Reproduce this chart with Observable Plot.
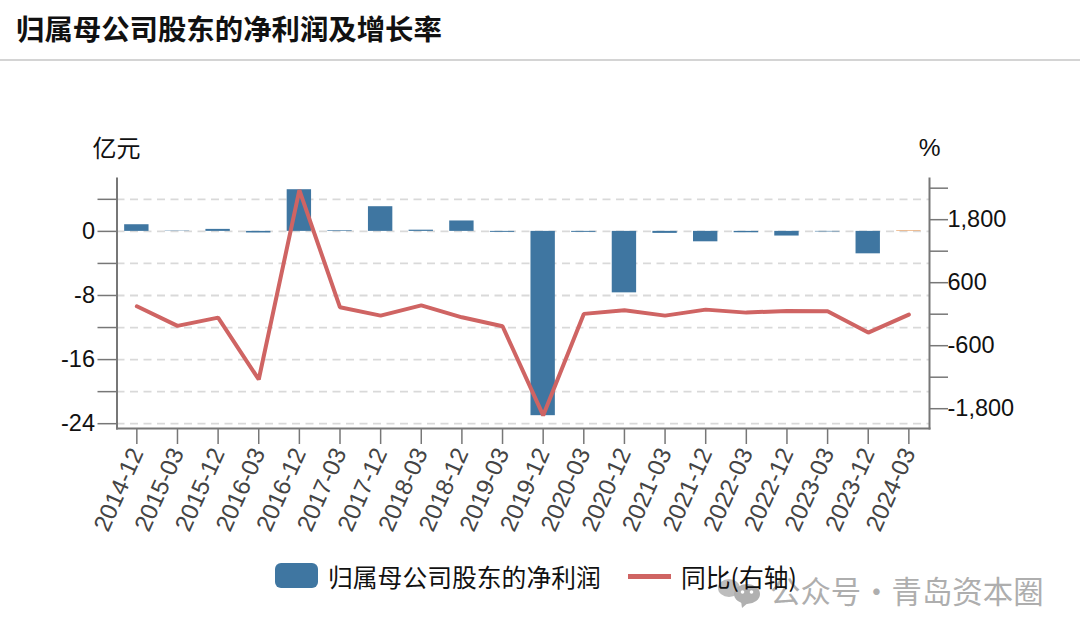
<!DOCTYPE html>
<html>
<head>
<meta charset="utf-8">
<script src="https://cdn.jsdelivr.net/npm/d3@7"></script>
<script src="https://cdn.jsdelivr.net/npm/@observablehq/plot@0.6"></script>
<style>
html,body{margin:0;padding:0;background:#fff;width:1080px;height:633px;overflow:hidden;}
body{position:relative;font-family:"Liberation Sans","Noto Sans CJK SC",sans-serif;color:#111;}
#title{position:absolute;left:16px;top:8px;font:600 28.4px/40px "Noto Sans CJK SC",sans-serif;white-space:nowrap;color:#111;}
#rule{position:absolute;left:0;top:59px;width:1080px;height:1.5px;background:#d4d4d4;}
#chart{position:absolute;left:0;top:60px;}
#chart svg{display:block;}
.abs{position:absolute;white-space:nowrap;}
.leg{font:400 24.8px/30px "Noto Sans CJK SC",sans-serif;color:#111;}
.wm{font:400 30.4px/40px "Noto Sans CJK SC",sans-serif;color:#aeaeae;}
</style>
</head>
<body>
<div id="title"></div>
<div id="rule"></div>
<div id="chart"></div>
<svg class="abs" style="left:715px;top:575px" width="50" height="35" viewBox="0 0 50 35">
  <ellipse cx="14" cy="13" rx="11" ry="9" fill="#bdbdbd"/>
  <ellipse cx="32" cy="19" rx="13" ry="10" fill="#b0b0b0"/>
  <path d="M26 26 L27 33 L34 27 Z" fill="#b0b0b0"/>
  <circle cx="27.5" cy="17" r="1.8" fill="#fff"/>
  <circle cx="36.5" cy="17" r="1.8" fill="#fff"/>
</svg>
<div class="abs wm" style="left:770px;top:570px">公众号·青岛资本圈</div>
<div class="abs" style="left:275px;top:563px;width:43px;height:25px;border-radius:6px;background:#3f76a1"></div>
<div class="abs leg" id="leg1" style="left:328px;top:561px"></div>
<div class="abs" style="left:628px;top:574px;width:43px;height:4.5px;background:#cf6463"></div>
<div class="abs leg" id="leg2" style="left:681px;top:561px"></div>
<script>
const titleText = "归属母公司股东的净利润及增长率";
const barName = "归属母公司股东的净利润";
const lineName = "同比(右轴)";
const leftUnit = "亿元";
const rightUnit = "%";

const periods = ["2014-12","2015-03","2015-12","2016-03","2016-12","2017-03","2017-12","2018-03","2018-12","2019-03","2019-12","2020-03","2020-12","2021-03","2021-12","2022-03","2022-12","2023-03","2023-12","2024-03"];
const profit = [0.83,0.04,0.25,-0.2,5.2,0.08,3.08,0.15,1.3,-0.12,-23.0,-0.12,-7.67,-0.25,-1.3,-0.17,-0.58,-0.07,-2.8,0.08];
const yoy = [150,-222,-65,-1243,2363,131,-27,169,-59,-230,-1928,6,74,-27,87,30,63,55,-350,-8];
const barColors = ["#3f76a1","#3f76a1","#3f76a1","#3f76a1","#3f76a1","#3f76a1","#3f76a1","#3f76a1","#3f76a1","#3f76a1","#3f76a1","#3f76a1","#3f76a1","#3f76a1","#3f76a1","#3f76a1","#3f76a1","#3f76a1","#3f76a1","#e9a264"];

const leftTicks = [-24,-20,-16,-12,-8,-4,0,4];
const leftLabels = [-24,-16,-8,0];
const rightTicks = [-1800,-1200,-600,0,600,1200,1800,2400];
const rightLabels = [-1800,-600,600,1800];

const yDomain = [-24.6,6.6];
// right axis (%) expressed on the left axis scale
const toLeft = d3.scaleLinear().domain([-1800,1800]).range([-22.13,1.46]);

const rows = periods.map((p,i)=>({p,v:profit[i],r:toLeft(yoy[i]),c:barColors[i]}));
const axisColor = "#777";

document.getElementById("title").textContent = titleText;
document.getElementById("leg1").textContent = barName;
document.getElementById("leg2").textContent = lineName;

const chart = Plot.plot({
  width:1080,height:500,
  marginTop:118,marginBottom:132,marginLeft:116.5,marginRight:151,
  style:{fontFamily:'"Liberation Sans","Noto Sans CJK SC",sans-serif',background:"transparent",overflow:"visible"},
  x:{domain:periods,padding:0.4,round:false,range:[107.9,936.8],label:null},
  y:{domain:yDomain,label:null},
  color:{type:"identity"},
  marks:[
    Plot.gridY(leftTicks,{stroke:"#d9d9d9",strokeOpacity:1,strokeWidth:1.8,strokeDasharray:"8 5.5"}),
    Plot.barY(rows,{x:"p",y:"v",fill:"c"}),
    Plot.line(rows,{x:"p",y:"r",stroke:"#cf6463",strokeWidth:4,strokeLinejoin:"miter"}),
    Plot.axisY(leftTicks,{anchor:"left",label:null,tickSize:19,tickPadding:3,stroke:axisColor,strokeWidth:1.5,fill:"#111",fontSize:23.5,
      tickFormat:d=>leftLabels.includes(d)?String(d):""}),
    Plot.axisY(rightTicks.map(d=>toLeft(d)),{anchor:"right",label:null,tickSize:18,tickPadding:0,stroke:axisColor,strokeWidth:1.5,fill:"#111",fontSize:23.5,
      tickFormat:(d,i)=>rightLabels.includes(rightTicks[i])?rightTicks[i].toLocaleString("en-US"):""}),
    Plot.axisX({anchor:"bottom",label:null,tickSize:16,tickPadding:5,tickRotate:-66,stroke:axisColor,strokeWidth:1.5,fill:"#444",fontSize:24}),
    Plot.frame({anchor:"left",stroke:axisColor,strokeWidth:2}),
    Plot.frame({anchor:"right",stroke:axisColor,strokeWidth:2}),
    Plot.frame({anchor:"bottom",stroke:axisColor,strokeWidth:2}),
    Plot.text([leftUnit],{frameAnchor:"top-left",dx:-24.5,dy:-29,textAnchor:"start",lineAnchor:"middle",fontSize:24,fill:"#111"}),
    Plot.text([rightUnit],{frameAnchor:"top-right",dx:11,dy:-30,textAnchor:"end",lineAnchor:"middle",fontSize:24.5,fill:"#111"})
  ]
});
document.getElementById("chart").appendChild(chart);
</script>
</body>
</html>
